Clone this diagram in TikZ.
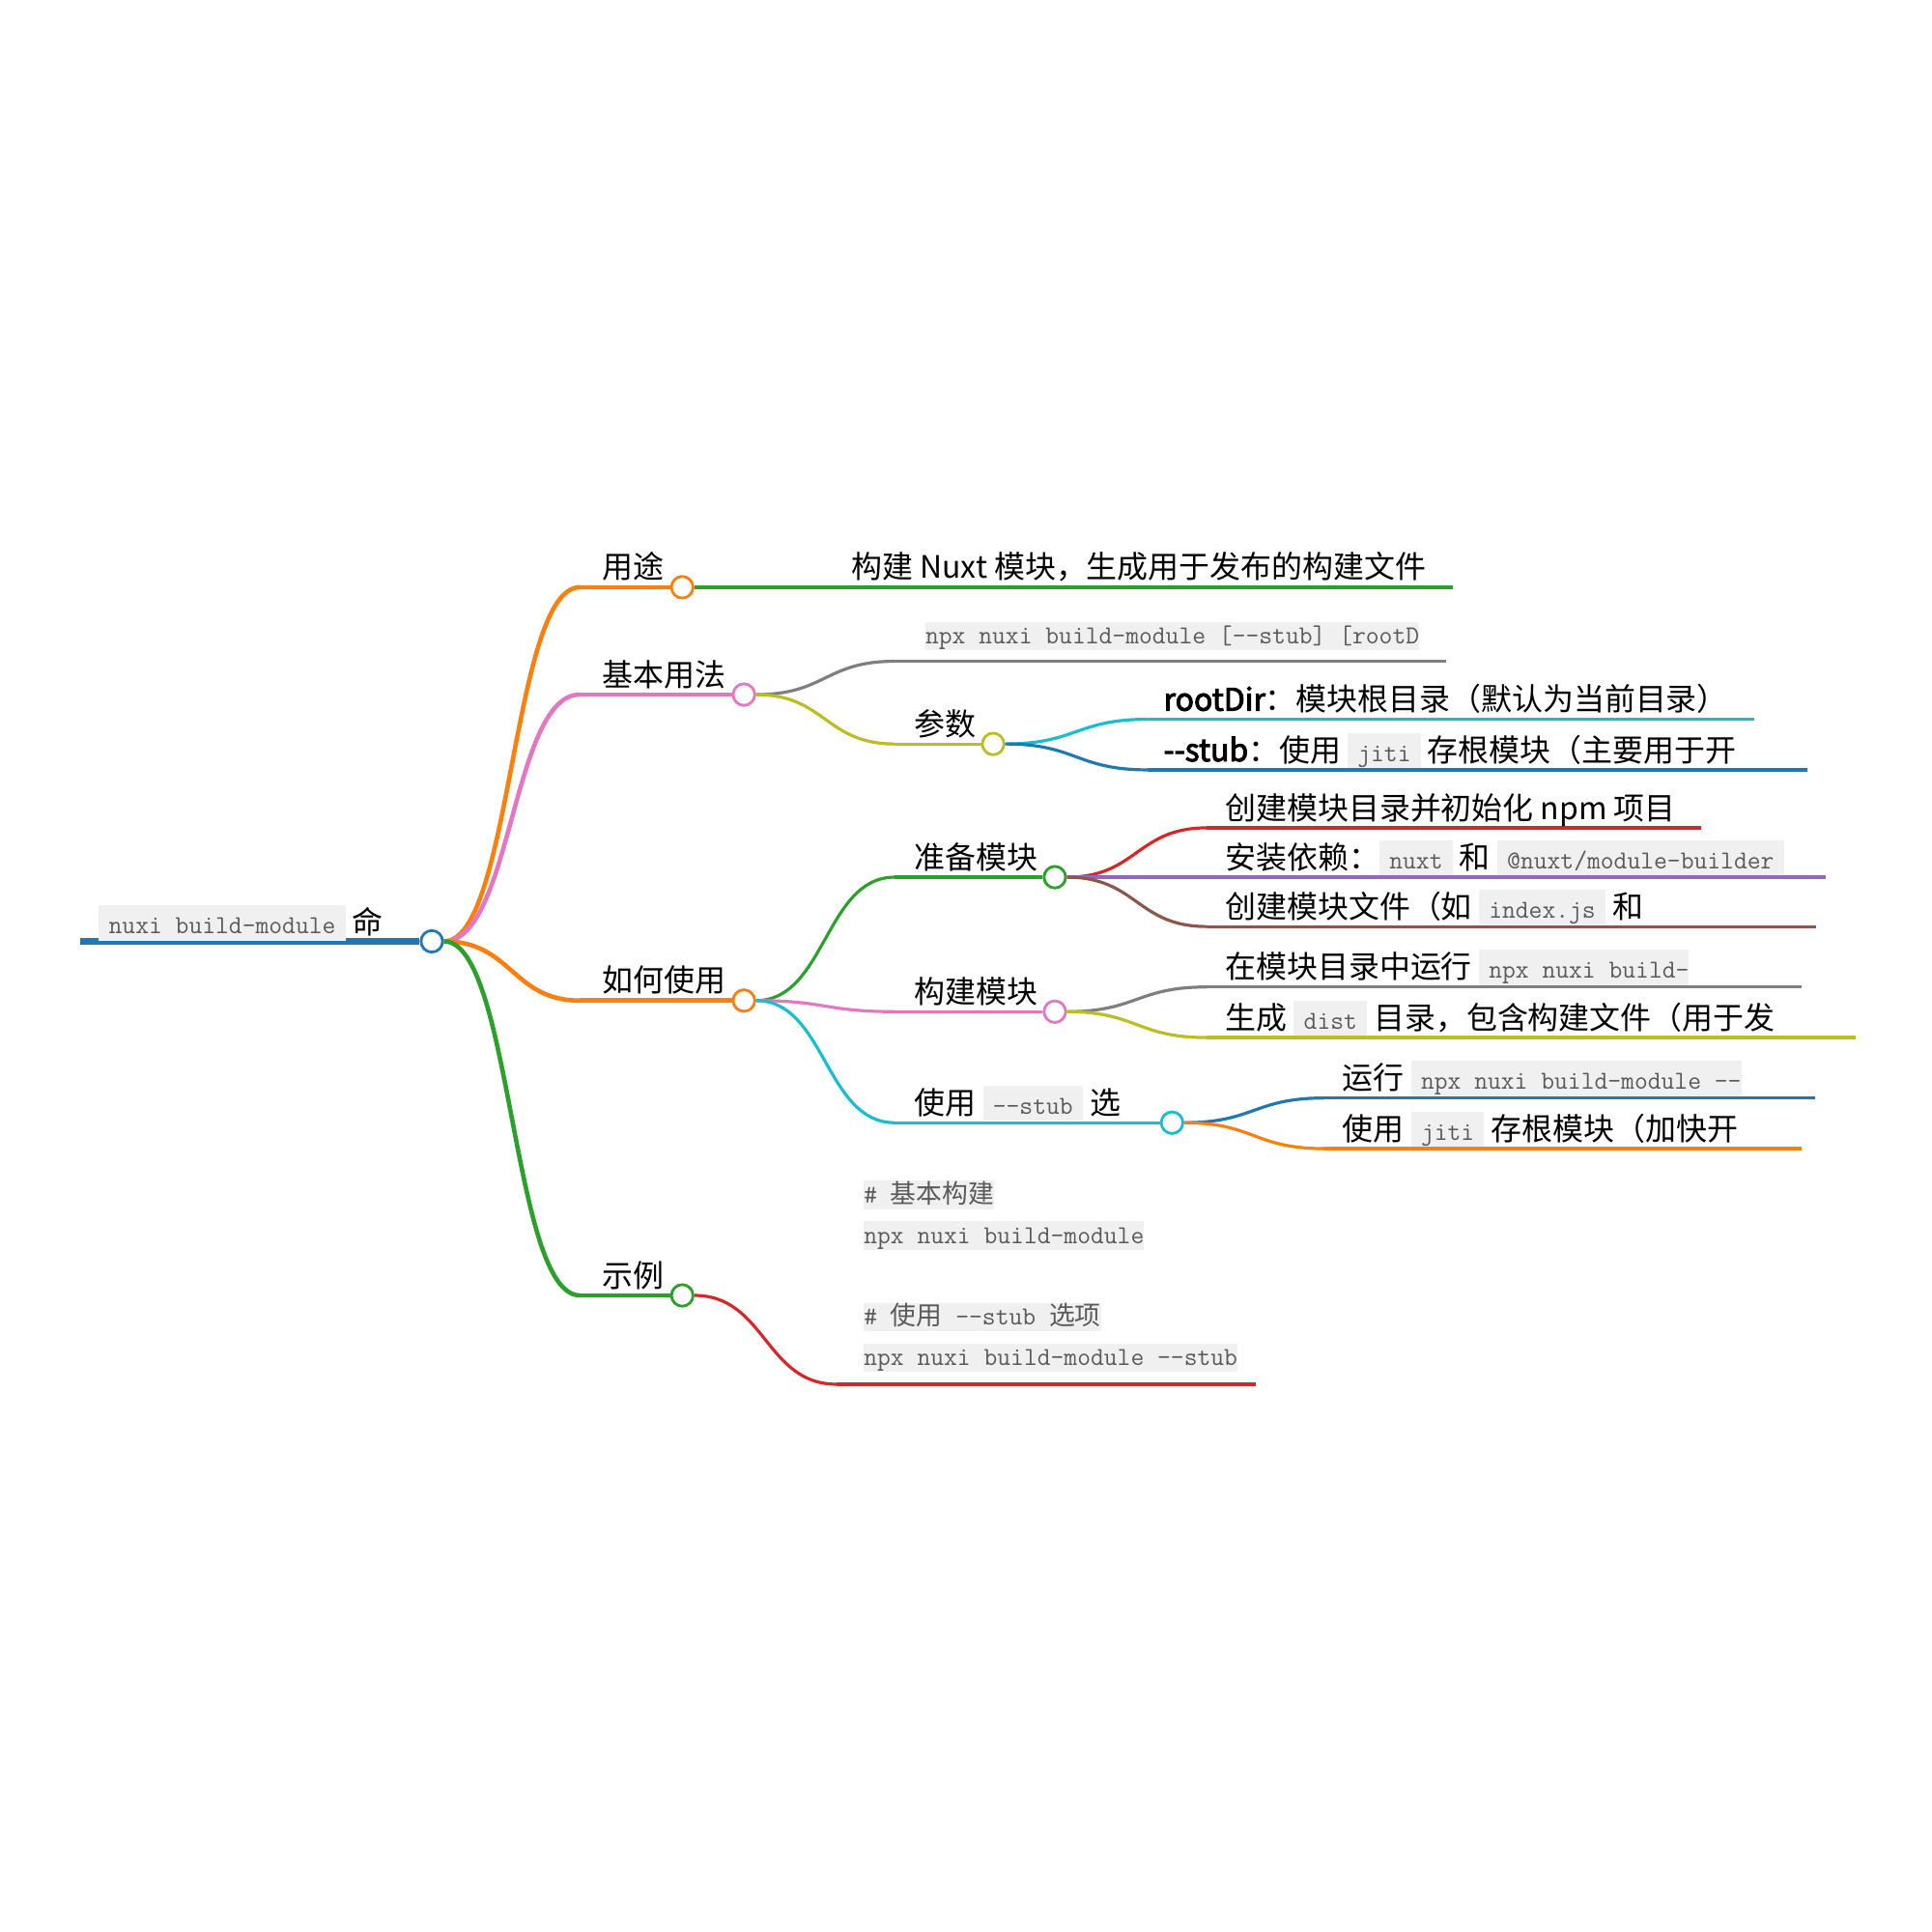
\documentclass[tikz,border=0pt]{standalone}
\usepackage{fontspec}
\setmainfont{Noto Sans CJK SC}
\newfontfamily\semibold[FakeBold=3]{Noto Sans CJK SC}
\usepackage{tikz}
\usetikzlibrary{calc}
\definecolor{cBlue}{HTML}{1F77B4}
\definecolor{cOrange}{HTML}{FF7F0E}
\definecolor{cGreen}{HTML}{2CA02C}
\definecolor{cRed}{HTML}{D62728}
\definecolor{cPurple}{HTML}{9467BD}
\definecolor{cBrown}{HTML}{8C564B}
\definecolor{cPink}{HTML}{E377C2}
\definecolor{cGray}{HTML}{7F7F7F}
\definecolor{cOlive}{HTML}{BCBD22}
\definecolor{cCyan}{HTML}{17BECF}
\definecolor{codebg}{HTML}{F0F0F0}
\definecolor{codefg}{HTML}{5A5A5A}
\setlength{\fboxsep}{0pt}
\newcommand\ic[2][8pt]{\colorbox{codebg}{\hspace{8pt}\rule[-5.5pt]{0pt}{28.5pt}\textcolor{codefg}{\ttfamily\fontsize{21}{25}\selectfont#2}\hspace{#1}}}
\newcommand\zh[1]{{\rmfamily#1}}
\newcommand\semi[1]{{\semibold#1}}
\newcommand\branch[3]{\draw[#3] let \p1=(#1), \p2=(#2) in (\p1) .. controls ({(\x1+\x2)/2},\y1) and ({(\x1+\x2)/2},\y2) .. (\p2);}

\begin{document}
\begin{tikzpicture}[x=1pt, y=-1pt,
    knob/.style={circle, draw=#1, fill=white, line width=2.2pt, minimum size=17.5pt, inner sep=0pt},
    lbl/.style={anchor=base west, inner sep=0pt, font=\fontsize{25}{30}\selectfont},
    cline/.style={anchor=base west, inner sep=0pt, fill=codebg, text=codefg, text height=18pt, text depth=5pt, font=\ttfamily\fontsize{21}{25}\selectfont},
    stem/.style={line width=3.6pt},
    leaf/.style={line width=2.5pt}]
    \useasboundingbox (0,0) rectangle (1566,1566);

    % root
    \coordinate (r0) at (65,763);
    \node[knob=cBlue] (root) at (350,763) {};
    \draw[cBlue, line width=5.2pt] (r0) -- (root.west);
    \node[lbl] (root-t) at (80,757) {\ic{nuxi build-module} 命};

    % first level
    \coordinate (yt-s) at (470,476);
    \coordinate (jb-s) at (470,563);
    \coordinate (rh-s) at (470,811);
    \coordinate (sl-s) at (470,1050);
    \node[knob=cOrange] (yt) at (553,476) {};
    \node[knob=cPink] (jb) at (603,563) {};
    \node[knob=cOrange] (rh) at (603,811) {};
    \node[knob=cGreen] (sl) at (553,1050) {};
    \branch{root.east}{yt-s}{cOrange, stem}
    \branch{root.east}{jb-s}{cPink, stem}
    \branch{root.east}{rh-s}{cOrange, stem}
    \branch{root.east}{sl-s}{cGreen, stem}
    \draw[cOrange, stem] (yt-s) -- (yt.west);
    \draw[cPink, stem] (jb-s) -- (jb.west);
    \draw[cOrange, stem] (rh-s) -- (rh.west);
    \draw[cGreen, stem] (sl-s) -- (sl.west);
    \node[lbl] (yt-t) at (488,469) {用途};
    \node[lbl] (jb-t) at (488,556) {基本用法};
    \node[lbl] (rh-t) at (488,804) {如何使用};
    \node[lbl] (sl-t) at (488,1043) {示例};

    % 用途
    \coordinate (yt1-s) at (677,476);
    \coordinate (yt1-e) at (1178,476);
    \draw[cGreen, leaf] (yt.east) -- (yt1-s) -- (yt1-e);
    \node[lbl] (yt1-t) at (690,469) {构建 Nuxt 模块，生成用于发布的构建文件};

    % 基本用法
    \coordinate (jb1-s) at (725,536);
    \coordinate (jb1-e) at (1172,536);
    \coordinate (cs-s) at (725,603);
    \node[knob=cOlive] (cs) at (805,603) {};
    \branch{jb.east}{jb1-s}{cGray, leaf}
    \branch{jb.east}{cs-s}{cOlive, leaf}
    \draw[cGray, leaf] (jb1-s) -- (jb1-e);
    \draw[cOlive, leaf] (cs-s) -- (cs.west);
    \node[cline] (jb1-t) at (750,522) {npx nuxi build-module [-{}-stub] [rootD};
    \node[lbl] (cs-t) at (741,596) {参数};

    \coordinate (cs1-s) at (930,583);
    \coordinate (cs1-e) at (1422,583);
    \coordinate (cs2-s) at (930,624);
    \coordinate (cs2-e) at (1465,624);
    \branch{cs.east}{cs1-s}{cCyan, leaf}
    \branch{cs.east}{cs2-s}{cBlue, leaf}
    \draw[cCyan, leaf] (cs1-s) -- (cs1-e);
    \draw[cBlue, leaf] (cs2-s) -- (cs2-e);
    \node[lbl] (cs1-t) at (943,576) {\semi{rootDir}：模块根目录（默认为当前目录）};
    \node[lbl] (cs2-t) at (943,617) {\semi{-{}-stub}：使用 \ic{jiti} 存根模块（主要用于开};

    % 如何使用
    \coordinate (zb-s) at (725,711);
    \coordinate (gj-s) at (725,820);
    \coordinate (sy-s) at (725,910);
    \node[knob=cGreen] (zb) at (855,711) {};
    \node[knob=cPink] (gj) at (855,820) {};
    \node[knob=cCyan] (sy) at (950,910) {};
    \branch{rh.east}{zb-s}{cGreen, leaf}
    \branch{rh.east}{gj-s}{cPink, leaf}
    \branch{rh.east}{sy-s}{cCyan, leaf}
    \draw[cGreen, leaf] (zb-s) -- (zb.west);
    \draw[cPink, leaf] (gj-s) -- (gj.west);
    \draw[cCyan, leaf] (sy-s) -- (sy.west);
    \node[lbl] (zb-t) at (741,704) {准备模块};
    \node[lbl] (gj-t) at (741,813) {构建模块};
    \node[lbl] (sy-t) at (741,903) {使用 \ic{-{}-stub} 选};

    % 准备模块
    \coordinate (zb1-s) at (978,671);
    \coordinate (zb1-e) at (1379,671);
    \coordinate (zb2-s) at (978,711);
    \coordinate (zb2-e) at (1480,711);
    \coordinate (zb3-s) at (978,751);
    \coordinate (zb3-e) at (1472,751);
    \branch{zb.east}{zb1-s}{cRed, leaf}
    \branch{zb.east}{zb2-s}{cPurple, leaf}
    \branch{zb.east}{zb3-s}{cBrown, leaf}
    \draw[cRed, leaf] (zb1-s) -- (zb1-e);
    \draw[cPurple, leaf] (zb2-s) -- (zb2-e);
    \draw[cBrown, leaf] (zb3-s) -- (zb3-e);
    \node[lbl] (zb1-t) at (993,664) {创建模块目录并初始化 npm 项目};
    \node[lbl] (zb2-t) at (993,704) {安装依赖：\ic{nuxt} 和 \ic{@nuxt/module-builder}};
    \node[lbl] (zb3-t) at (993,744) {创建模块文件（如 \ic{index.js} 和};

    % 构建模块
    \coordinate (gj1-s) at (978,800);
    \coordinate (gj1-e) at (1460,800);
    \coordinate (gj2-s) at (978,841);
    \coordinate (gj2-e) at (1504,841);
    \branch{gj.east}{gj1-s}{cGray, leaf}
    \branch{gj.east}{gj2-s}{cOlive, leaf}
    \draw[cGray, leaf] (gj1-s) -- (gj1-e);
    \draw[cOlive, leaf] (gj2-s) -- (gj2-e);
    \node[lbl] (gj1-t) at (993,793) {在模块目录中运行 \ic[0pt]{npx nuxi build-}};
    \node[lbl] (gj2-t) at (993,834) {生成 \ic{dist} 目录，包含构建文件（用于发};

    % 使用 --stub
    \coordinate (sy1-s) at (1073,890);
    \coordinate (sy1-e) at (1471,890);
    \coordinate (sy2-s) at (1073,931);
    \coordinate (sy2-e) at (1460,931);
    \branch{sy.east}{sy1-s}{cBlue, leaf}
    \branch{sy.east}{sy2-s}{cOrange, leaf}
    \draw[cBlue, leaf] (sy1-s) -- (sy1-e);
    \draw[cOrange, leaf] (sy2-s) -- (sy2-e);
    \node[lbl] (sy1-t) at (1088,883) {运行 \ic[0pt]{npx nuxi build-module -{}-}};
    \node[lbl] (sy2-t) at (1088,924) {使用 \ic{jiti} 存根模块（加快开};

    % 示例
    \coordinate (sl1-s) at (678,1122);
    \coordinate (sl1-e) at (1018,1122);
    \branch{sl.east}{sl1-s}{cRed, leaf}
    \draw[cRed, leaf] (sl1-s) -- (sl1-e);
    \begin{scope}
        \clip (690,940) rectangle (1004,1118);
        \node[cline] (ex1) at (700,975) {\# \zh{基本构建}};
        \node[cline] (ex2) at (700,1008) {npx nuxi build-module};
        \node[cline] (ex3) at (700,1074) {\# \zh{使用} -{}-stub \zh{选项}};
        \node[cline] (ex4) at (700,1107) {npx nuxi build-module -{}-stub};
    \end{scope}
\end{tikzpicture}
\end{document}
